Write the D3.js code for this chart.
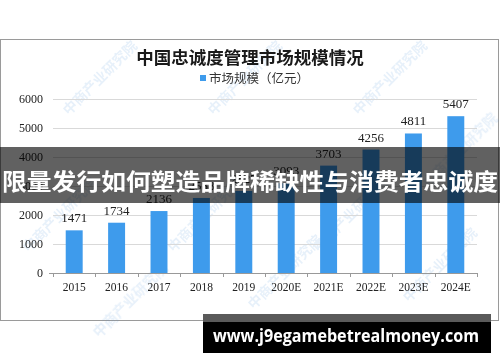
<!DOCTYPE html>
<html><head><meta charset="utf-8">
<script src="https://cdn.jsdelivr.net/npm/d3@7/dist/d3.min.js"></script>
<style>body{margin:0;background:#fff}svg{display:block}</style>
</head><body>
<svg id="c" width="500" height="362"></svg>
<script>
const categories = ["2015","2016","2017","2018","2019","2020E","2021E","2022E","2023E","2024E"];
const values = [1471,1734,2136,2588,2827,3093,3703,4256,4811,5407];
const yTicks = [0,1000,2000,3000,4000,5000,6000];
const title = "中国忠诚度管理市场规模情况";
const legendLabel = "市场规模（亿元）";
const bannerText = "限量发行如何塑造品牌稀缺性与消费者忠诚度";
const urlText = "www.j9egamebetrealmoney.com";
const watermark = "中商产业研究院";

const svg = d3.select("#c");
const serif = "'Liberation Serif','DejaVu Serif',serif";
const cjk = "'Noto Sans CJK SC','Noto Sans',sans-serif";
const blue = "#3e9bec";

// frame
svg.append("rect").attr("x",0.5).attr("y",39.5).attr("width",498).attr("height",281)
  .attr("fill","#fff").attr("stroke","#9a9a9a");

// watermarks
const wm = svg.append("g").attr("opacity",0.13);
[[100,78],[245,78],[390,78],[60,215],[205,215],[350,215],[460,150],[130,300],[285,272],[440,265]].forEach(([x,y])=>{
  wm.append("text").attr("transform",`translate(${x},${y}) rotate(-45)`)
    .attr("text-anchor","middle").attr("dy","0.35em").attr("font-family",cjk).attr("font-weight","bold")
    .attr("font-size",14).attr("fill","#4a90d9").text(watermark);
});

const x = d3.scaleBand().domain(categories).range([53,477]).paddingInner(0.6).paddingOuter(0.3);
const y = d3.scaleLinear().domain([0,6000]).range([273,99]);

// gridlines
svg.append("g").selectAll("line").data(yTicks.filter(d=>d>0)).join("line")
  .attr("x1",53).attr("x2",477).attr("y1",d=>Math.round(y(d))+0.5).attr("y2",d=>Math.round(y(d))+0.5)
  .attr("stroke","#d9d9d9");

// y labels
svg.append("g").selectAll("text").data(yTicks).join("text")
  .attr("x",43).attr("y",d=>y(d)).attr("dy","0.35em").attr("text-anchor","end")
  .attr("font-family",serif).attr("font-size",12).attr("fill","#222").text(d=>d);
svg.append("line").attr("x1",49).attr("x2",53).attr("y1",273.5).attr("y2",273.5).attr("stroke","#999");

// bars
svg.append("g").selectAll("rect").data(values).join("rect")
  .attr("x",(d,i)=>x(categories[i])).attr("width",x.bandwidth())
  .attr("y",d=>y(d)).attr("height",d=>y(0)-y(d)).attr("fill",blue);

// value labels
svg.append("g").selectAll("text").data(values).join("text")
  .attr("x",(d,i)=>x(categories[i])+x.bandwidth()/2).attr("y",d=>y(d)-8)
  .attr("text-anchor","middle").attr("font-family",serif).attr("font-size",13).attr("fill","#222").text(d=>d);

// x axis
const xa = d3.axisBottom(x).tickSize(0).tickPadding(9);
const gx = svg.append("g").attr("transform","translate(0,273.5)").call(xa);
gx.select(".domain").attr("stroke","#999").attr("d","M53,0H477");
gx.selectAll("text").attr("font-family",serif).attr("font-size",11.5).attr("fill","#222");
const step = x.step();
svg.append("g").selectAll("line").data(d3.range(categories.length+1)).join("line")
  .attr("x1",d=>Math.round(53+d*step)+0.5).attr("x2",d=>Math.round(53+d*step)+0.5)
  .attr("y1",273).attr("y2",277).attr("stroke","#999");

// title & legend
svg.append("text").attr("x",250).attr("y",58).attr("dy","0.35em").attr("text-anchor","middle")
  .attr("font-family",cjk).attr("font-weight","bold").attr("font-size",17.5).attr("fill","#1a1a1a").text(title);
svg.append("rect").attr("x",200).attr("y",75).attr("width",6).attr("height",6).attr("fill",blue);
svg.append("text").attr("x",209).attr("y",78.5).attr("dy","0.35em")
  .attr("font-family",cjk).attr("font-size",12.5).attr("fill","#333").text(legendLabel);

// overlay banner
svg.append("rect").attr("x",0).attr("y",147).attr("width",500).attr("height",56)
  .attr("fill","#000").attr("opacity",0.62);
svg.append("text").attr("x",2).attr("y",182).attr("dy","0.35em")
  .attr("font-family",cjk).attr("font-weight","bold").attr("font-size",23)
  .attr("fill","#fff").attr("textLength",496).attr("lengthAdjust","spacingAndGlyphs").text(bannerText);

// url banner
svg.append("rect").attr("x",203).attr("y",314).attr("width",288).attr("height",8).attr("fill","#5a5a5a");
svg.append("rect").attr("x",203).attr("y",322).attr("width",288).attr("height",31).attr("fill","#000");
svg.append("text").attr("x",213).attr("y",336).attr("dy","0.35em")
  .attr("font-family","'Open Sans','DejaVu Sans',sans-serif").attr("font-weight","bold").attr("font-size",18)
  .attr("fill","#fff").attr("textLength",266).attr("lengthAdjust","spacingAndGlyphs").text(urlText);
</script>
</body></html>
